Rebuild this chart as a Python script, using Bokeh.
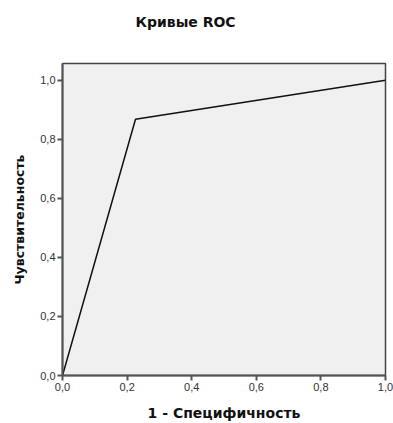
from bokeh.plotting import figure
from bokeh.models import Range1d, FixedTicker, Title
from bokeh.embed import file_html
from bokeh.resources import INLINE

fpr = [0.0, 0.226, 1.0]
tpr = [0.0, 0.868, 1.0]
tick_values = [0.0, 0.2, 0.4, 0.6, 0.8, 1.0]
tick_labels = ["0,0", "0,2", "0,4", "0,6", "0,8", "1,0"]
chart_title = "Кривые ROC"

FONT = "Liberation Sans"
BFONT = "DejaVu Sans"

p = figure(width=393, height=423, output_backend="svg", toolbar_location=None,
           x_range=Range1d(0, 1.0), y_range=Range1d(0, 1.057))
p.min_border_left = 62
p.min_border_right = 8
p.min_border_top = 63
p.min_border_bottom = 45
p.background_fill_color = "#f0f0f0"
p.border_fill_color = "white"
p.outline_line_color = "#444444"
p.outline_line_width = 1.5
p.grid.visible = False

p.title.text = chart_title
p.title.align = "left"
p.title.offset = 73
p.title.text_font = BFONT
p.title.text_font_size = "14px"
p.title.text_font_style = "bold"
p.title.text_color = "#111111"
p.title.standoff = 23

spacer = Title(text=" ", text_font_size="1px", standoff=19)
p.add_layout(spacer, "above")

for ax in (p.xaxis[0], p.yaxis[0]):
    ax.ticker = FixedTicker(ticks=tick_values)
    ax.major_label_overrides = {v: l for v, l in zip(tick_values, tick_labels)}
    ax.axis_line_color = "#555555"
    ax.axis_line_width = 2
    ax.major_tick_line_color = "#555555"
    ax.major_tick_line_width = 2
    ax.major_tick_out = 5
    ax.major_tick_in = 0
    ax.minor_tick_line_color = None
    ax.major_label_text_font = FONT
    ax.major_label_text_font_size = "11px"
    ax.major_label_text_color = "#333333"
    ax.axis_label_text_font = BFONT
    ax.axis_label_text_font_style = "bold"
    ax.axis_label_text_color = "#111111"

p.xaxis.axis_label = "1 - Специфичность"
p.yaxis.axis_label = "Чувствительность"
p.xaxis.axis_label_text_font_size = "14px"
p.yaxis.axis_label_text_font_size = "12.5px"
p.xaxis.major_label_standoff = 2
p.yaxis.major_label_standoff = 2
p.xaxis.axis_label_standoff = 11
p.yaxis.axis_label_standoff = 10

p.line(fpr, tpr, line_color="#111111", line_width=1.5)

open("out.html", "w").write(file_html(p, INLINE))
